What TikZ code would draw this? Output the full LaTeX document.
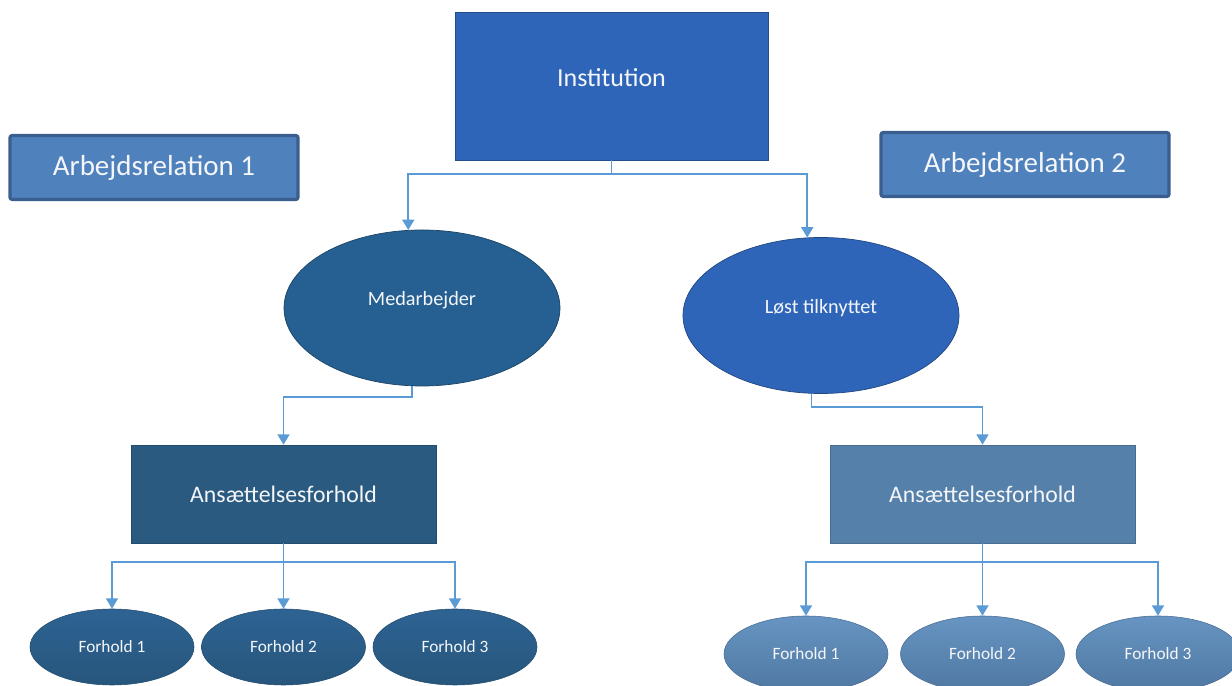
\documentclass[tikz,border=0pt]{standalone}
\usepackage{fontspec}
\setmainfont{Carlito}
\usetikzlibrary{arrows.meta,positioning,calc,shapes.geometric}
\definecolor{instblue}{HTML}{2F65B9}
\definecolor{relfill}{HTML}{4F81BD}
\definecolor{relborder}{HTML}{3A5F8E}
\definecolor{medblue}{HTML}{265F91}
\definecolor{ansdark}{HTML}{2A5A7F}
\definecolor{anslight}{HTML}{5580AA}
\definecolor{fldarktop}{HTML}{2D6393}
\definecolor{fldarkbot}{HTML}{27567C}
\definecolor{frlighttop}{HTML}{6794C2}
\definecolor{frlightbot}{HTML}{4F78A2}
\definecolor{connblue}{HTML}{5B9BD5}
\definecolor{txtwhite}{HTML}{F4F6FA}
\tikzset{
  liftby/.style={text depth=#1},
  instbox/.style={draw=instblue!75!black, line width=0.5pt, fill=instblue, minimum width=7.825cm, minimum height=3.7cm, inner sep=0pt, text=txtwhite, font=\fontsize{18.5}{22}\selectfont},
  relbox/.style={draw=relborder, line width=2.2pt, fill=relfill, rounded corners=1.5pt, minimum width=7.2cm, minimum height=1.6cm, inner sep=0pt, text=txtwhite, font=\fontsize{20.6}{24}\selectfont},
  roleellipse/.style={ellipse, draw=#1!70!black, line width=0.5pt, fill=#1, minimum width=6.9cm, minimum height=3.9cm, inner sep=0pt, text=txtwhite, font=\fontsize{14.4}{17}\selectfont},
  ansbox/.style={draw=#1!85!black, line width=0.4pt, fill=#1, minimum width=7.625cm, minimum height=2.45cm, inner sep=0pt, text=txtwhite, font=\fontsize{16.9}{20}\selectfont},
  forholdellipse/.style 2 args={ellipse, draw=#2!90!black, line width=0.4pt, top color=#1, bottom color=#2, minimum width=4.1cm, minimum height=1.9cm, inner sep=0pt, text=txtwhite, font=\fontsize{12.3}{15}\selectfont},
  conn/.style={draw=connblue, line width=1.3pt, -{Triangle[length=2.6mm,width=3mm]}}
}
\begin{document}
\begin{tikzpicture}
\useasboundingbox (0,0) rectangle (30.8,17.15);
\clip (0,0) rectangle (30.8,17.15);
% top level
\node[instbox, liftby=12pt] (inst) at (15.2875,15.0) {Institution};
\node[relbox] (rel1) at (3.85,12.9625) {Arbejdsrelation 1};
\node[relbox] (rel2) at (25.625,13.0375) {Arbejdsrelation 2};
% relations
\node[roleellipse=medblue, liftby=13.5pt] (medarb) at (10.55,9.45) {Medarbejder};
\node[roleellipse=instblue, liftby=13pt] (loest) at (20.525,9.2625) {Løst tilknyttet};
\node[ansbox=ansdark] (ansL) at (7.0875,4.8) {Ansættelsesforhold};
\node[ansbox=anslight] (ansR) at (24.5625,4.8) {Ansættelsesforhold};
% forhold
\node[forholdellipse={fldarktop}{fldarkbot}] (fl1) at (2.8,0.975) {Forhold 1};
\node[forholdellipse={fldarktop}{fldarkbot}] (fl2) at (7.0875,0.975) {Forhold 2};
\node[forholdellipse={fldarktop}{fldarkbot}] (fl3) at (11.375,0.975) {Forhold 3};
\node[forholdellipse={frlighttop}{frlightbot}] (fr1) at (20.15,0.8) {Forhold 1};
\node[forholdellipse={frlighttop}{frlightbot}] (fr2) at (24.5625,0.8) {Forhold 2};
\node[forholdellipse={frlighttop}{frlightbot}] (fr3) at (28.95,0.8) {Forhold 3};
% connectors
\coordinate (instfork) at ($(inst.south)+(0,-0.35)$);
\draw[conn] (inst.south) -- (instfork) -| (medarb.100);
\draw[conn] (inst.south) -- (instfork) -| (loest.100);
\draw[conn] (medarb.263) -- ++(0,-0.275) -| (ansL.north);
\draw[conn] (loest.263) -- ++(0,-0.325) -| (ansR.north);
\foreach \f in {fl1,fl2,fl3}
  \draw[conn] (ansL.south) -- ++(0,-0.47) -| (\f.north);
\foreach \f in {fr1,fr2,fr3}
  \draw[conn] (ansR.south) -- ++(0,-0.47) -| (\f.north);
\end{tikzpicture}
\end{document}
